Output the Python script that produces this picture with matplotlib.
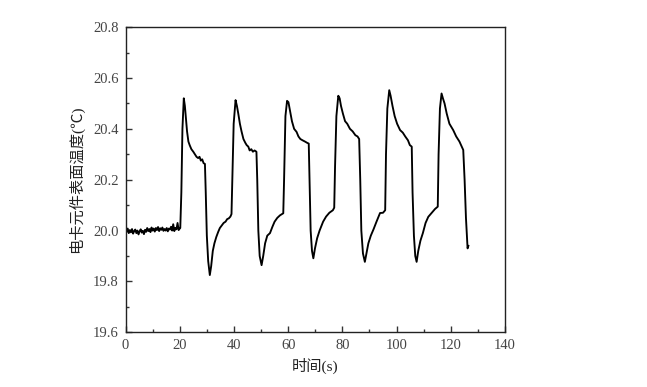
import numpy as np
import matplotlib
matplotlib.use("Agg")
import matplotlib.pyplot as plt
from matplotlib.ticker import MultipleLocator

# ---- data ----
base_t = [0.0, 0.4, 0.8, 1.2, 1.6, 2.0, 2.4, 2.8, 3.2, 3.6, 4.0, 4.4, 4.8, 5.2, 5.6,
          6.0, 6.4, 6.8, 7.2, 7.6, 8.0, 8.4, 8.8, 9.2, 9.6, 10.0, 10.4, 10.8, 11.2,
          11.6, 12.0, 12.4, 12.8, 13.2, 13.6, 14.0, 14.4, 14.8, 15.2, 15.6, 16.0,
          16.4, 16.8, 17.2, 17.6, 18.0, 18.4, 18.8, 19.2, 19.6, 20.0]
base_T = [20.005, 19.995, 20.008, 19.990, 20.002, 19.993, 20.006, 19.988, 19.998,
          20.004, 19.990, 20.000, 19.985, 19.997, 20.005, 19.992, 19.999, 19.986,
          20.003, 19.995, 20.010, 19.998, 20.006, 19.994, 20.012, 20.000, 20.008,
          19.996, 20.010, 20.002, 20.014, 19.998, 20.009, 20.003, 20.012, 19.999,
          20.006, 20.000, 20.010, 19.997, 20.008, 20.004, 20.015, 20.000, 20.025,
          19.998, 20.010, 20.005, 20.030, 20.002, 20.008]

cyc_t = [20.2, 20.6, 21.0, 21.5, 21.9, 22.3, 22.7, 23.2, 23.7, 24.3, 25.0, 25.6,
         26.2, 26.8, 27.3, 27.8, 28.3, 28.8, 29.3, 29.6, 30.0, 30.5, 31.1, 31.6,
         32.2, 32.8, 33.5, 34.2, 34.8, 35.5, 36.2, 36.9, 37.5, 38.1, 38.7, 39.1,
         39.4, 39.9, 40.6, 41.1, 41.6, 42.2, 42.8, 43.5, 44.2, 44.7, 45.3, 45.8,
         46.4, 47.0, 47.6, 48.3, 48.6, 49.0, 49.5, 50.2, 50.8, 51.5, 52.3, 53.3,
         54.2, 55.0, 56.0, 57.0, 58.2,
         58.5, 59.0, 59.6, 60.1, 60.7, 61.4, 62.2, 63.1, 63.8, 64.5, 65.3, 66.2,
         67.0, 67.6, 67.9, 68.3, 68.8, 69.3, 69.9, 70.7, 71.6, 72.9, 74.0, 75.2,
         76.5, 77.0,
         77.3, 77.8, 78.5, 79.0, 79.5, 80.2, 81.0, 81.8, 82.8, 83.8, 84.8, 85.6,
         86.2, 86.6, 87.0, 87.6, 88.3, 88.9, 89.6, 90.5, 91.5, 92.6, 93.9, 95.0,
         95.8,
         96.1, 96.6, 97.3, 97.8, 98.5, 99.3, 100.2, 101.3, 102.3, 103.2, 104.2,
         104.9, 105.6, 105.9, 106.4, 106.9, 107.4, 108.0, 108.8, 109.7, 110.7,
         111.7, 113.0, 114.2, 115.2,
         115.5, 116.0, 116.6, 117.1, 117.7, 118.5, 119.5, 120.9, 122.0, 123.2,
         124.6, 125.1, 125.6, 126.2, 126.5]
cyc_T = [20.010, 20.150, 20.400, 20.520, 20.490, 20.440, 20.390, 20.350, 20.335,
         20.320, 20.310, 20.300, 20.290, 20.285, 20.290, 20.275, 20.280, 20.265,
         20.262, 20.150, 19.980, 19.880, 19.825, 19.860, 19.920, 19.950, 19.975,
         19.995, 20.010, 20.020, 20.030, 20.035, 20.045, 20.048, 20.055, 20.065,
         20.200, 20.420, 20.513, 20.490, 20.460, 20.420, 20.390, 20.360, 20.345,
         20.336, 20.330, 20.315, 20.320, 20.310, 20.315, 20.310, 20.200, 20.000,
         19.900, 19.864, 19.900, 19.950, 19.980, 19.990, 20.015, 20.035, 20.050,
         20.060, 20.068,
         20.200, 20.450, 20.510, 20.505, 20.470, 20.430, 20.400, 20.388, 20.370,
         20.360, 20.355, 20.350, 20.345, 20.342, 20.200, 20.000, 19.920, 19.891,
         19.930, 19.970, 20.000, 20.035, 20.055, 20.070, 20.080, 20.090,
         20.250, 20.450, 20.530, 20.520, 20.490, 20.460, 20.430, 20.420, 20.400,
         20.390, 20.375, 20.370, 20.360, 20.200, 20.000, 19.910, 19.877, 19.910,
         19.950, 19.980, 20.005, 20.035, 20.069, 20.070, 20.080,
         20.300, 20.480, 20.552, 20.530, 20.490, 20.450, 20.420, 20.395, 20.385,
         20.370, 20.355, 20.336, 20.330, 20.150, 19.980, 19.900, 19.877, 19.920,
         19.960, 19.990, 20.030, 20.054, 20.070, 20.085, 20.094,
         20.300, 20.480, 20.539, 20.520, 20.500, 20.460, 20.420, 20.395, 20.370,
         20.350, 20.317, 20.200, 20.050, 19.930, 19.940]

t = np.array(base_t + cyc_t)
T = np.array(base_T + cyc_T)

xticks = [0, 20, 40, 60, 80, 100, 120, 140]
yticks = [19.6, 19.8, 20.0, 20.2, 20.4, 20.6, 20.8]

plt.rcParams['font.family'] = ['Liberation Serif', 'Noto Sans CJK SC']

fig = plt.figure(figsize=(6.47, 3.87), dpi=100)
ax = fig.add_axes([0.194, 0.1413, 0.5865, 0.7887])
ax.plot(t, T, color='black', lw=1.35)

ax.set_xlim(0, 140)
ax.set_ylim(19.6, 20.8)
ax.set_xticks(xticks)
ax.set_yticks(yticks)
ax.set_yticklabels([f"{v:.1f}" for v in yticks])
ax.xaxis.set_minor_locator(MultipleLocator(10))
ax.yaxis.set_minor_locator(MultipleLocator(0.1))
ax.tick_params(which='both', direction='in', top=False, right=False,
               labelsize=10.5, width=1.0, colors='#333333', labelcolor='#444444')
ax.tick_params(which='major', length=4, pad=5)
ax.tick_params(which='minor', length=2.5)
for s in ax.spines.values():
    s.set_linewidth(1.0)
    s.set_color('#222222')

ax.set_xlabel('时间(s)', fontsize=11, color='#222222', labelpad=4)
ax.set_ylabel('电卡元件表面温度(℃)', fontsize=11, color='#222222', labelpad=6)

fig.savefig('out.png', dpi=100)
